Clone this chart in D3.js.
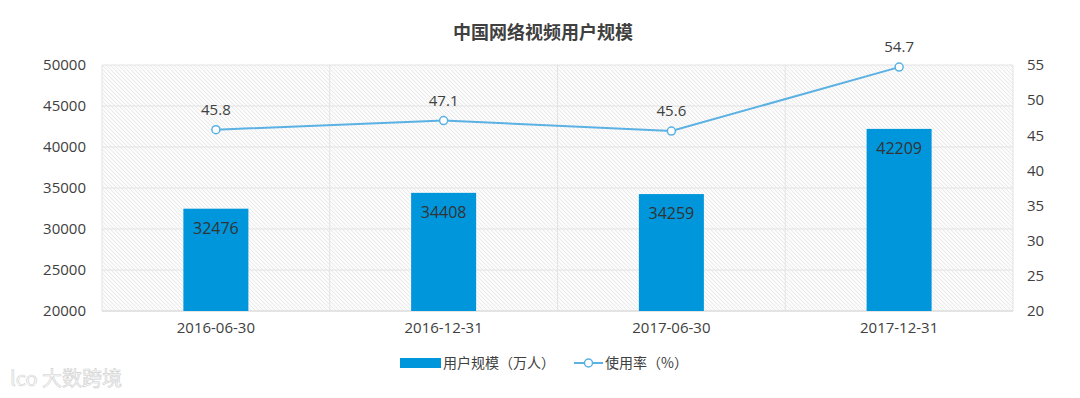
<!DOCTYPE html>
<html>
<head>
<meta charset="utf-8">
<script src="https://cdn.jsdelivr.net/npm/d3@7"></script>
<style>
  body { margin: 0; background: #fff; }
  text { font-family: "Noto Sans CJK SC", "Open Sans", sans-serif; }
</style>
</head>
<body>
<div id="chart"></div>
<script>
// data
var categories = ["2016-06-30", "2016-12-31", "2017-06-30", "2017-12-31"];
var users = [32476, 34408, 34259, 42209];
var rate = [45.8, 47.1, 45.6, 54.7];
var leftTicks = [20000, 25000, 30000, 35000, 40000, 45000, 50000];
var rightTicks = [20, 25, 30, 35, 40, 45, 50, 55];

var W = 1080, H = 398;
var margin = { top: 65, right: 67, bottom: 87, left: 102 },
    width = W - margin.left - margin.right,
    height = H - margin.top - margin.bottom;

var svg = d3.select("#chart").append("svg")
    .attr("width", W)
    .attr("height", H);

// hatched background
var defs = svg.append("defs");
var pat = defs.append("pattern")
    .attr("id", "hatch")
    .attr("patternUnits", "userSpaceOnUse")
    .attr("width", 4).attr("height", 4);
pat.append("rect").attr("width", 4).attr("height", 4).attr("fill", "#fbfbfb");
pat.append("path")
    .attr("d", "M-1,-1 L5,5 M-1,3 L1,5 M3,-1 L5,1")
    .attr("stroke", "#e6e6e6")
    .attr("stroke-width", 0.8);

var g = svg.append("g")
    .attr("transform", "translate(" + margin.left + "," + margin.top + ")");

g.append("rect")
    .attr("width", width)
    .attr("height", height)
    .attr("fill", "url(#hatch)");

var x = d3.scaleBand()
    .domain(categories)
    .range([0, width]);

var yL = d3.scaleLinear().domain([20000, 50000]).range([height, 0]);
var yR = d3.scaleLinear().domain([20, 55]).range([height, 0]);

// horizontal grid
g.selectAll(".hgrid")
    .data(leftTicks)
    .enter()
    .append("line")
    .attr("x1", 0).attr("x2", width)
    .attr("y1", function (d) { return yL(d) })
    .attr("y2", function (d) { return yL(d) })
    .attr("stroke", "#e3e3e3")
    .attr("stroke-width", 1);

// vertical grid at category boundaries
g.selectAll(".vgrid")
    .data(categories)
    .enter()
    .append("line")
    .attr("x1", function (d) { return x(d) + x.bandwidth() })
    .attr("x2", function (d) { return x(d) + x.bandwidth() })
    .attr("y1", 0).attr("y2", height)
    .attr("stroke", "#e3e3e3");
g.append("line")
    .attr("x1", 0).attr("x2", 0).attr("y1", 0).attr("y2", height)
    .attr("stroke", "#e3e3e3");

// axes
var axL = g.append("g")
    .call(d3.axisLeft(yL).tickValues(leftTicks).tickFormat(d3.format("d")).tickSize(0).tickPadding(16));
var axR = g.append("g")
    .attr("transform", "translate(" + width + ",0)")
    .call(d3.axisRight(yR).tickValues(rightTicks).tickSize(0).tickPadding(14));
var axB = g.append("g")
    .attr("transform", "translate(0," + height + ")")
    .call(d3.axisBottom(x).tickSize(0).tickPadding(11));
[axL, axR, axB].forEach(function (a) {
    a.select(".domain").remove();
    a.selectAll("text")
        .attr("fill", "#404040")
        .style("font-size", "15px")
        .style("font-family", "'Open Sans', 'Noto Sans', sans-serif");
});
g.append("line")
    .attr("x1", 0).attr("x2", width).attr("y1", height).attr("y2", height)
    .attr("stroke", "#d9d9d9");

// bars
var barW = 65;
g.selectAll(".bar")
    .data(users)
    .enter()
    .append("rect")
    .attr("x", function (d, i) { return x(categories[i]) + x.bandwidth() / 2 - barW / 2 })
    .attr("y", function (d) { return yL(d) })
    .attr("width", barW)
    .attr("height", function (d) { return height - yL(d) })
    .attr("fill", "#0096dc");

g.selectAll(".barLabel")
    .data(users)
    .enter()
    .append("text")
    .attr("x", function (d, i) { return x(categories[i]) + x.bandwidth() / 2 })
    .attr("y", function (d) { return yL(d) + 25 })
    .attr("text-anchor", "middle")
    .style("font-size", "16px")
    .style("font-family", "'Open Sans', sans-serif")
    .attr("fill", "#333")
    .text(function (d) { return d });

// line
var line = d3.line()
    .x(function (d, i) { return x(categories[i]) + x.bandwidth() / 2 })
    .y(function (d) { return yR(d) });
g.append("path")
    .attr("d", line(rate))
    .attr("fill", "none")
    .attr("stroke", "#5bb1e3")
    .attr("stroke-width", 2);

g.selectAll(".dot")
    .data(rate)
    .enter()
    .append("circle")
    .attr("cx", function (d, i) { return x(categories[i]) + x.bandwidth() / 2 })
    .attr("cy", function (d) { return yR(d) })
    .attr("r", 4)
    .attr("fill", "#fff")
    .attr("stroke", "#5bb1e3")
    .attr("stroke-width", 1.5);

g.selectAll(".rateLabel")
    .data(rate)
    .enter()
    .append("text")
    .attr("x", function (d, i) { return x(categories[i]) + x.bandwidth() / 2 })
    .attr("y", function (d) { return yR(d) - 15 })
    .attr("text-anchor", "middle")
    .style("font-size", "15px")
    .style("font-family", "'Open Sans', sans-serif")
    .attr("fill", "#404040")
    .text(function (d) { return d.toFixed(1) });

// title
svg.append("text")
    .attr("x", 543)
    .attr("y", 39)
    .attr("text-anchor", "middle")
    .style("font-size", "18px")
    .style("font-weight", "bold")
    .attr("fill", "#404040")
    .text("中国网络视频用户规模");

// legend
var lg = svg.append("g").attr("transform", "translate(0,363)");
lg.append("rect")
    .attr("x", 400).attr("y", -5).attr("width", 41).attr("height", 10)
    .attr("fill", "#0096dc");
lg.append("text")
    .attr("x", 443).attr("y", 5)
    .style("font-size", "14px")
    .attr("fill", "#404040")
    .text("用户规模（万人）");
lg.append("line")
    .attr("x1", 574).attr("x2", 603).attr("y1", 0).attr("y2", 0)
    .attr("stroke", "#5bb1e3").attr("stroke-width", 2);
lg.append("circle")
    .attr("cx", 588.5).attr("cy", 0).attr("r", 4)
    .attr("fill", "#fff").attr("stroke", "#5bb1e3").attr("stroke-width", 1.5);
lg.append("text")
    .attr("x", 605).attr("y", 5)
    .style("font-size", "14px")
    .attr("fill", "#404040")
    .text("使用率（%）");

// watermark
svg.append("text")
    .attr("x", 10).attr("y", 386)
    .style("font-size", "20px")
    .attr("fill", "#fafafa")
    .attr("stroke", "#d0d0d0")
    .attr("stroke-width", 0.6)
    .text("lco 大数跨境");
</script>
</body>
</html>
